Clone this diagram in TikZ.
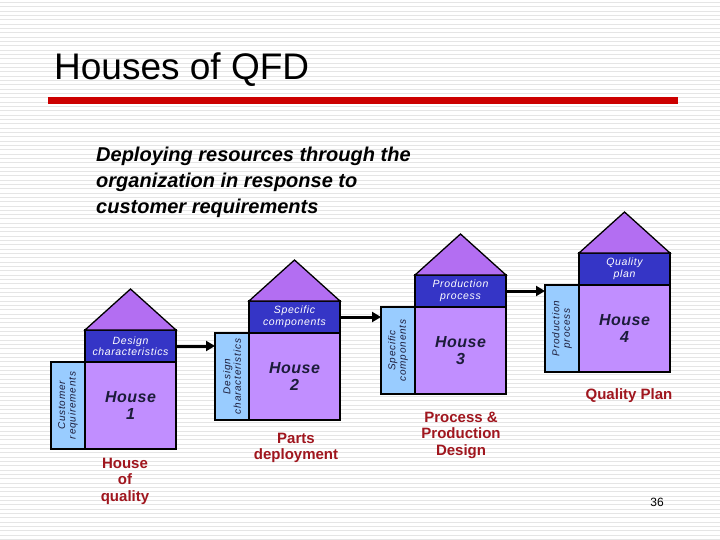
\documentclass[tikz,border=0pt]{standalone}
\usepackage{fontspec}
\setmainfont{Liberation Sans}
\usetikzlibrary{arrows.meta,positioning}

\definecolor{roofviolet}{HTML}{B36EF2}
\definecolor{bodylilac}{HTML}{C18EFF}
\definecolor{headblue}{HTML}{3535C6}
\definecolor{stripblue}{HTML}{99CCFF}
\definecolor{housenavy}{HTML}{1C1C3A}
\definecolor{phasered}{HTML}{A0161E}
\definecolor{rulered}{HTML}{CC0000}

\tikzset{
  stripe/.style={black!10,line width=1pt},
  roof/.style={draw=black,line width=1.3pt,fill=roofviolet,line join=miter},
  header/.style={draw,line width=1.3pt,fill=headblue,minimum width=91pt,
    minimum height=32pt,inner sep=0pt,outer sep=0pt,align=center,text=white,
    font=\fontsize{10.5}{11.5}\itshape\selectfont\addfontfeatures{LetterSpace=6}},
  body/.style={draw,line width=1.3pt,fill=bodylilac,minimum width=91pt,
    minimum height=87pt,inner sep=0pt,outer sep=0pt,align=center,text=housenavy,
    font=\fontsize{16}{17.5}\bfseries\itshape\selectfont\addfontfeatures{LetterSpace=3}},
  strip/.style={draw,line width=1.3pt,fill=stripblue,minimum width=34pt,
    minimum height=87pt,inner sep=0pt,outer sep=0pt},
  striptext/.style={rotate=90,align=center,inner sep=0pt,text=housenavy,
    font=\fontsize{10}{10.5}\itshape\selectfont\addfontfeatures{LetterSpace=8}},
  flow/.style={->,line width=3pt},
  phase/.style={align=center,text=phasered,
    font=\fontsize{15}{16.5}\bfseries\selectfont}
}

\begin{document}
\begin{tikzpicture}[x=1pt,y=-1pt,>={Triangle[length=9pt,width=10pt]}]
  \useasboundingbox (0,0) rectangle (720,540);
  \fill[white] (0,0) rectangle (720,540);
  % slide background
  \foreach \y in {2.5,6.83,...,540}
    \draw[stripe] (0,\y) -- (720,\y);

  % title
  \node[anchor=base west,inner sep=0pt,font=\fontsize{37}{40}\selectfont]
    (title) at (54,80) {Houses of QFD};
  \fill[rulered] (48,97) rectangle (678,104);
  \node[anchor=north west,inner sep=0pt,align=left,
    font=\fontsize{20}{26}\bfseries\itshape\selectfont]
    (lead) at (96,147) {Deploying resources through the\\
      organization in response to\\customer requirements};

  % house 1
  \node[strip,anchor=south west] (s1) at (51,449) {};
  \node[body,right=0pt of s1] (b1) {House\\1};
  \node[header,above=0pt of b1] (h1) {Design\\characteristics};
  \draw[roof] (h1.north west) -- ([yshift=41pt]h1.north) -- (h1.north east) -- cycle;
  \node[striptext] (t1) at (s1.center) {Customer\\requirements};

  % house 2
  \node[strip,anchor=south west] (s2) at (215,420) {};
  \node[body,right=0pt of s2] (b2) {House\\2};
  \node[header,above=0pt of b2] (h2) {Specific\\components};
  \draw[roof] (h2.north west) -- ([yshift=41pt]h2.north) -- (h2.north east) -- cycle;
  \node[striptext] (t2) at (s2.center) {Design\\characteristics};

  % house 3
  \node[strip,anchor=south west] (s3) at (381,394) {};
  \node[body,right=0pt of s3] (b3) {House\\3};
  \node[header,above=0pt of b3] (h3) {Production\\process};
  \draw[roof] (h3.north west) -- ([yshift=41pt]h3.north) -- (h3.north east) -- cycle;
  \node[striptext] (t3) at (s3.center) {Specific\\components};

  % house 4
  \node[strip,anchor=south west] (s4) at (545,372) {};
  \node[body,right=0pt of s4] (b4) {House\\4};
  \node[header,above=0pt of b4] (h4) {Quality\\plan};
  \draw[roof] (h4.north west) -- ([yshift=41pt]h4.north) -- (h4.north east) -- cycle;
  \node[striptext] (t4) at (s4.center) {Production\\process};

  % hand-over between houses
  \draw[flow] (h1.east) -- (h1.east -| s2.west);
  \draw[flow] (h2.east) -- (h2.east -| s3.west);
  \draw[flow] (h3.east) -- (h3.east -| s4.west);

  % phase names
  \node[phase] (p1) at (125,481) {House\\of\\quality};
  \node[phase] (p2) at (296,448) {Parts\\deployment};
  \node[phase] (p3) at (461,435) {Process \&\\Production\\Design};
  \node[phase] (p4) at (629,396) {Quality Plan};

  \node[font=\fontsize{12}{12}\selectfont] (page) at (657,502) {36};
\end{tikzpicture}
\end{document}
